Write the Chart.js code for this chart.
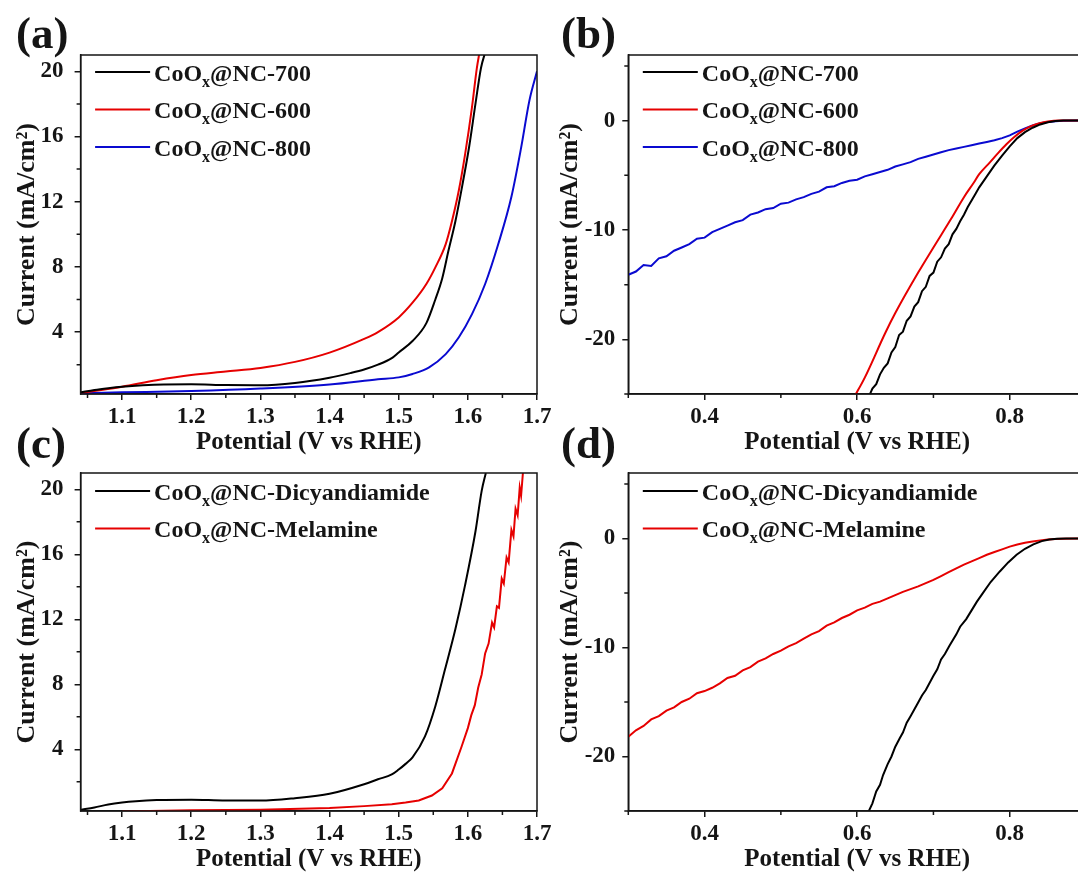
<!DOCTYPE html>
<html>
<head>
<meta charset="utf-8">
<script src="https://cdn.jsdelivr.net/npm/chart.js@4.4.1/dist/chart.umd.min.js"></script>
<style>
html, body { margin: 0; padding: 0; background: #fff; }
body { width: 1078px; height: 875px; position: relative; overflow: hidden; }
canvas { position: absolute; }
</style>
</head>
<body>
<canvas id="chart-a" width="555" height="470" style="left:0;top:0"></canvas>
<canvas id="chart-b" width="550" height="470" style="left:540px;top:0"></canvas>
<canvas id="chart-c" width="555" height="467" style="left:0;top:420px"></canvas>
<canvas id="chart-d" width="550" height="467" style="left:540px;top:420px"></canvas>
<script>
const FONT = "'Liberation Serif', 'Times New Roman', Times, serif";
const INK = '#151515';
const BLACK = '#000000', RED = '#e60000', BLUE = '#0a0ad0';

// ---- (a) OER curves, CoOx@NC at three temperatures ----
const aV700 = [1.04, 1.06, 1.08, 1.10, 1.13, 1.16, 1.20, 1.25, 1.30, 1.35, 1.40, 1.43, 1.45, 1.47, 1.49, 1.50, 1.52, 1.54, 1.553, 1.563, 1.572, 1.582, 1.592, 1.602, 1.611, 1.619, 1.626];
const aI700 = [0.3, 0.45, 0.56, 0.65, 0.74, 0.79, 0.8, 0.75, 0.74, 0.88, 1.2, 1.48, 1.7, 2.0, 2.4, 2.75, 3.45, 4.55, 6.0, 7.3, 9.0, 10.8, 13.0, 15.4, 18.0, 20.2, 21.3];
const aV600 = [1.04, 1.07, 1.10, 1.15, 1.20, 1.25, 1.30, 1.35, 1.40, 1.45, 1.47, 1.50, 1.52, 1.54, 1.553, 1.568, 1.577, 1.587, 1.596, 1.606, 1.613, 1.617];
const aI600 = [0.27, 0.45, 0.65, 1.05, 1.37, 1.58, 1.8, 2.17, 2.74, 3.58, 4.0, 4.9, 5.8, 6.95, 7.97, 9.4, 10.8, 12.7, 14.9, 17.8, 20.2, 21.2];
const aV800 = [1.04, 1.10, 1.20, 1.30, 1.40, 1.47, 1.50, 1.52, 1.544, 1.568, 1.587, 1.606, 1.625, 1.644, 1.663, 1.677, 1.689, 1.70];
const aI800 = [0.25, 0.3, 0.38, 0.53, 0.78, 1.1, 1.22, 1.43, 1.84, 2.65, 3.68, 5.1, 6.95, 9.4, 12.3, 15.3, 18.2, 20.0];

// ---- (b) ORR curves, same samples ----
const bV700 = [0.615, 0.62, 0.625, 0.63, 0.635, 0.64, 0.645, 0.65, 0.655, 0.66, 0.665, 0.67, 0.675, 0.68, 0.685, 0.69, 0.695, 0.70, 0.705, 0.71, 0.715, 0.72, 0.725, 0.73, 0.735, 0.74, 0.745, 0.75, 0.755, 0.76, 0.77, 0.78, 0.79, 0.80, 0.81, 0.82, 0.83, 0.84, 0.85, 0.86, 0.87, 0.89];
const bI700 = [-25.3, -24.5, -24.1, -23.2, -22.6, -22.2, -21.2, -20.7, -19.6, -19.3, -18.3, -17.9, -17.0, -16.6, -15.6, -15.2, -14.2, -13.9, -12.9, -12.5, -11.7, -11.3, -10.4, -9.9, -9.2, -8.6, -7.9, -7.3, -6.7, -6.1, -5.1, -4.1, -3.2, -2.35, -1.6, -1.05, -0.65, -0.35, -0.15, -0.04, 0, 0];
const bV600 = [0.596, 0.61, 0.637, 0.65, 0.68, 0.70, 0.723, 0.74, 0.753, 0.76, 0.774, 0.785, 0.796, 0.806, 0.817, 0.828, 0.839, 0.85, 0.865, 0.89];
const bI600 = [-25.3, -23.5, -19.4, -17.6, -13.9, -11.6, -9.0, -7.0, -5.66, -4.9, -3.82, -2.95, -2.14, -1.5, -0.92, -0.5, -0.24, -0.08, 0, 0];
const bV800 = [0.30, 0.31, 0.32, 0.33, 0.34, 0.35, 0.36, 0.37, 0.38, 0.39, 0.40, 0.41, 0.42, 0.43, 0.44, 0.45, 0.46, 0.47, 0.48, 0.49, 0.50, 0.51, 0.52, 0.53, 0.54, 0.55, 0.56, 0.57, 0.58, 0.59, 0.60, 0.61, 0.62, 0.63, 0.64, 0.65, 0.66, 0.67, 0.68, 0.69, 0.70, 0.71, 0.72, 0.73, 0.74, 0.75, 0.76, 0.77, 0.78, 0.79, 0.80, 0.81, 0.82, 0.83, 0.84, 0.85, 0.86, 0.87, 0.89];
const bI800 = [-14.1, -13.8, -13.2, -13.3, -12.6, -12.4, -11.9, -11.6, -11.3, -10.8, -10.7, -10.2, -9.9, -9.6, -9.3, -9.1, -8.6, -8.4, -8.1, -8.0, -7.6, -7.5, -7.2, -7.0, -6.7, -6.5, -6.1, -6.0, -5.7, -5.5, -5.4, -5.1, -4.9, -4.7, -4.5, -4.2, -4.0, -3.8, -3.5, -3.3, -3.1, -2.9, -2.7, -2.55, -2.4, -2.25, -2.1, -1.95, -1.8, -1.6, -1.35, -1.0, -0.72, -0.45, -0.24, -0.12, -0.05, -0.01, 0];

// ---- (c) OER curves, nitrogen sources ----
const cVDicy = [1.04, 1.06, 1.08, 1.10, 1.12, 1.15, 1.20, 1.25, 1.30, 1.35, 1.40, 1.45, 1.47, 1.49, 1.50, 1.51, 1.52, 1.538, 1.553, 1.567, 1.582, 1.596, 1.611, 1.62, 1.626];
const cIDicy = [0.27, 0.42, 0.6, 0.72, 0.8, 0.87, 0.9, 0.84, 0.84, 0.99, 1.26, 1.85, 2.15, 2.45, 2.75, 3.1, 3.5, 4.79, 6.65, 8.92, 11.4, 14.1, 17.4, 19.9, 21.0];
const cVMel = [1.10, 1.20, 1.30, 1.40, 1.45, 1.49, 1.51, 1.529, 1.548, 1.563, 1.577, 1.591, 1.60, 1.605, 1.61, 1.615, 1.62, 1.625, 1.63, 1.635, 1.638, 1.642, 1.645, 1.649, 1.652, 1.656, 1.659, 1.663, 1.666, 1.669, 1.672, 1.675, 1.677, 1.68];
const cIMel = [0.17, 0.25, 0.28, 0.38, 0.5, 0.62, 0.72, 0.85, 1.15, 1.6, 2.51, 4.17, 5.3, 6.1, 6.7, 7.8, 8.6, 9.9, 10.5, 11.8, 11.5, 12.8, 12.7, 14.5, 14.2, 15.8, 15.5, 17.5, 17.1, 18.8, 18.4, 20.1, 19.6, 21.2];

// ---- (d) ORR curves, nitrogen sources ----
const dVDicy = [0.614, 0.62, 0.625, 0.63, 0.634, 0.64, 0.645, 0.65, 0.656, 0.66, 0.665, 0.67, 0.678, 0.685, 0.69, 0.70, 0.705, 0.71, 0.715, 0.721, 0.73, 0.735, 0.743, 0.75, 0.757, 0.765, 0.775, 0.787, 0.798, 0.809, 0.82, 0.831, 0.842, 0.852, 0.862, 0.874, 0.89];
const dIDicy = [-25.2, -24.3, -23.2, -22.6, -21.7, -20.7, -20.0, -19.1, -18.3, -17.8, -16.9, -16.3, -15.3, -14.4, -13.9, -12.6, -12.0, -11.1, -10.6, -9.85, -8.8, -8.1, -7.4, -6.6, -5.8, -5.0, -4.0, -3.03, -2.2, -1.5, -0.95, -0.55, -0.25, -0.09, -0.02, 0, 0];
const dVMel = [0.30, 0.31, 0.32, 0.33, 0.34, 0.35, 0.36, 0.37, 0.38, 0.39, 0.40, 0.41, 0.42, 0.43, 0.44, 0.45, 0.46, 0.47, 0.48, 0.49, 0.50, 0.51, 0.52, 0.53, 0.54, 0.55, 0.56, 0.57, 0.58, 0.59, 0.60, 0.61, 0.62, 0.63, 0.64, 0.65, 0.66, 0.67, 0.68, 0.69, 0.70, 0.71, 0.72, 0.73, 0.74, 0.75, 0.76, 0.77, 0.78, 0.79, 0.80, 0.81, 0.82, 0.83, 0.84, 0.85, 0.86, 0.87, 0.89];
const dIMel = [-18.2, -17.6, -17.2, -16.6, -16.3, -15.8, -15.5, -15.0, -14.7, -14.2, -14.0, -13.7, -13.3, -12.8, -12.6, -12.1, -11.8, -11.3, -11.0, -10.6, -10.3, -9.9, -9.6, -9.2, -8.8, -8.5, -8.0, -7.7, -7.3, -7.0, -6.6, -6.35, -6.0, -5.8, -5.5, -5.2, -4.9, -4.65, -4.4, -4.1, -3.8, -3.45, -3.1, -2.75, -2.4, -2.1, -1.8, -1.5, -1.25, -1.0, -0.75, -0.55, -0.4, -0.28, -0.18, -0.1, -0.06, -0.02, 0];

// axis ticks
const oerXTicks = [1.1, 1.2, 1.3, 1.4, 1.5, 1.6, 1.7];
const oerXMinor = [1.05, 1.15, 1.25, 1.35, 1.45, 1.55, 1.65];
const oerYTicks = [4, 8, 12, 16, 20];
const oerYMinor = [2, 6, 10, 14, 18];
const orrXTicks = [0.4, 0.6, 0.8];
const orrXMinor = [0.3, 0.5, 0.7, 0.9];
const orrYTicks = [-20, -10, 0];
const orrYMinor = [-25, -15, -5, 5];

const zip = (xs, ys) => xs.map((x, i) => ({ x, y: ys[i] }));

function series(label, color, xs, ys, smooth) {
    return {
        label,
        data: zip(xs, ys),
        borderColor: color,
        borderWidth: 2,
        pointRadius: 0,
        fill: false,
        clip: 0,
        tension: smooth ? 0.4 : 0,
        cubicInterpolationMode: smooth ? 'monotone' : 'default',
    };
}

// frame, minor ticks, legend with subscript, panel tag
const decor = {
    id: 'decor',
    afterDatasetsDraw(chart, args, o) {
        const { ctx, chartArea: a, scales: { x, y } } = chart;
        ctx.save();
        ctx.strokeStyle = INK;
        ctx.lineWidth = 1.5;
        ctx.strokeRect(a.left, a.top, a.right - a.left, a.bottom - a.top);

        ctx.beginPath();
        o.xMinor.forEach(v => {
            const p = x.getPixelForValue(v);
            ctx.moveTo(p, a.bottom); ctx.lineTo(p, a.bottom + 4);
        });
        o.yMinor.forEach(v => {
            const p = y.getPixelForValue(v);
            ctx.moveTo(a.left, p); ctx.lineTo(a.left - 4, p);
        });
        ctx.stroke();

        chart.data.datasets.forEach((ds, i) => {
            const ly = a.top + o.legendTop + i * 37.5;
            const lx = a.left + 14.5;
            ctx.strokeStyle = ds.borderColor;
            ctx.lineWidth = 2;
            ctx.beginPath(); ctx.moveTo(lx, ly); ctx.lineTo(lx + 55, ly); ctx.stroke();

            const [head, tail] = ds.label.split('x@');
            const base = ly + 8.5;
            let tx = lx + 59;
            ctx.fillStyle = INK;
            ctx.textAlign = 'left';
            ctx.textBaseline = 'alphabetic';
            ctx.font = `bold 24px ${FONT}`;
            ctx.fillText(head, tx, base);
            tx += ctx.measureText(head).width;
            ctx.font = `bold 16px ${FONT}`;
            ctx.fillText('x', tx, base + 6);
            tx += ctx.measureText('x').width;
            ctx.font = `bold 24px ${FONT}`;
            ctx.fillText('@' + tail, tx, base);
        });

        ctx.font = `bold 45px ${FONT}`;
        ctx.fillStyle = INK;
        ctx.fillText(o.tag, o.tagX, o.tagY);
        ctx.restore();
    }
};

function axes(c) {
    const tickFont = { family: FONT, size: 23, weight: 'bold' };
    const titleFont = { family: FONT, size: 25, weight: 'bold' };
    const yTitleFont = { family: FONT, size: 26, weight: 'bold' };
    const grid = { drawOnChartArea: false, drawTicks: true, tickLength: 6, color: INK, lineWidth: 1.5 };
    const border = { display: true, color: INK, width: 1.5 };
    return {
        x: {
            type: 'linear', min: c.xMin, max: c.xMax,
            afterBuildTicks: s => { s.ticks = c.xTicks.map(v => ({ value: v })); },
            afterFit: s => { s.height = 76; },
            ticks: { autoSkip: false, maxRotation: 0, padding: 3, color: INK, font: tickFont, callback: v => v.toFixed(1) },
            grid, border,
            title: { display: true, text: 'Potential (V vs RHE)', color: INK, font: titleFont, padding: { top: 0, bottom: 12 } },
        },
        y: {
            type: 'linear', min: c.yMin, max: c.yMax,
            afterBuildTicks: s => { s.ticks = c.yTicks.map(v => ({ value: v })); },
            afterFit: s => { s.width = c.yWidth; },
            ticks: { autoSkip: false, padding: c.yTickPad, color: INK, font: tickFont, callback: v => String(v) },
            grid, border,
            title: { display: true, text: 'Current (mA/cm²)', color: INK, font: yTitleFont, padding: { top: c.yTitlePad, bottom: 0 } },
        },
    };
}

function makeChart(id, datasets, c) {
    return new Chart(document.getElementById(id), {
        type: 'line',
        data: { datasets },
        options: {
            responsive: false,
            devicePixelRatio: 1,
            animation: false,
            events: [],
            layout: { padding: { top: c.padTop, right: c.padRight, left: 0, bottom: 0 } },
            scales: axes(c),
            plugins: {
                legend: { display: false },
                tooltip: { enabled: false },
                decor: { xMinor: c.xMinor, yMinor: c.yMinor, legendTop: c.legendTop, tag: c.tag, tagX: c.tagX, tagY: c.tagY },
            },
        },
        plugins: [decor],
    });
}

const oer = { xMin: 1.04, xMax: 1.7, yMin: 0.2, yMax: 21, xTicks: oerXTicks, xMinor: oerXMinor, yTicks: oerYTicks, yMinor: oerYMinor, yWidth: 80.6, yTickPad: 11, yTitlePad: 12, padRight: 18, tagX: 16 };
const orr = { xMin: 0.3, xMax: 0.9, yMin: -25, yMax: 6, xTicks: orrXTicks, xMinor: orrXMinor, yTicks: orrYTicks, yMinor: orrYMinor, yWidth: 88.3, yTickPad: 7, yTitlePad: 15, padRight: 4, tagX: 21 };

makeChart('chart-a', [
    series('CoOx@NC-700', BLACK, aV700, aI700, true),
    series('CoOx@NC-600', RED, aV600, aI600, true),
    series('CoOx@NC-800', BLUE, aV800, aI800, true),
], { ...oer, padTop: 55, legendTop: 17, tag: '(a)', tagY: 48 });

makeChart('chart-b', [
    series('CoOx@NC-700', BLACK, bV700, bI700, false),
    series('CoOx@NC-600', RED, bV600, bI600, true),
    series('CoOx@NC-800', BLUE, bV800, bI800, false),
], { ...orr, padTop: 55, legendTop: 17, tag: '(b)', tagY: 48 });

makeChart('chart-c', [
    series('CoOx@NC-Dicyandiamide', BLACK, cVDicy, cIDicy, true),
    series('CoOx@NC-Melamine', RED, cVMel, cIMel, false),
], { ...oer, padTop: 53, legendTop: 18, tag: '(c)', tagY: 38 });

makeChart('chart-d', [
    series('CoOx@NC-Dicyandiamide', BLACK, dVDicy, dIDicy, false),
    series('CoOx@NC-Melamine', RED, dVMel, dIMel, false),
], { ...orr, padTop: 53, legendTop: 18, tag: '(d)', tagY: 38 });
</script>
</body>
</html>
